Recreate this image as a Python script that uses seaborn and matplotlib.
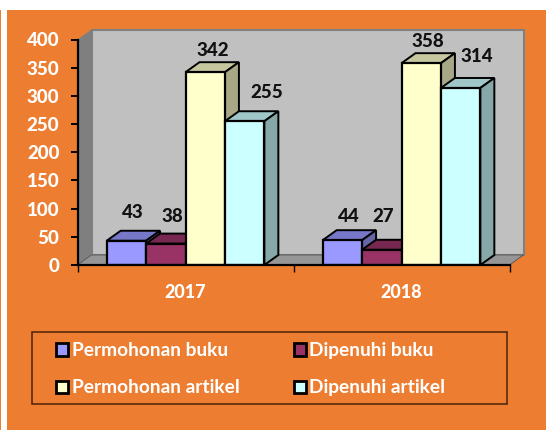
import matplotlib
matplotlib.use("Agg")
import matplotlib.pyplot as plt
from matplotlib.colors import to_rgb
from matplotlib.patches import Polygon, Rectangle
import pandas as pd
import seaborn as sns

# Data
years = ["2017", "2018"]
series = ["Permohonan buku", "Dipenuhi buku", "Permohonan artikel", "Dipenuhi artikel"]
permohonan_buku = [43, 44]
dipenuhi_buku = [38, 27]
permohonan_artikel = [342, 358]
dipenuhi_artikel = [255, 314]
colors = ["#9999FF", "#993366", "#FFFFCC", "#CCFFFF"]
y_ticks = [0, 50, 100, 150, 200, 250, 300, 350, 400]

ORANGE = "#ED7D31"
W, H = 546, 430
HEAVY = 900

sns.set_theme(style="white")
plt.rcParams["font.family"] = ["Lato", "DejaVu Sans"]

rows = []
for name, values in zip(series, [permohonan_buku, dipenuhi_buku, permohonan_artikel, dipenuhi_artikel]):
    for year, value in zip(years, values):
        rows.append({"tahun": year, "jenis": name, "jumlah": value})
df = pd.DataFrame(rows)

fig = plt.figure(figsize=(W / 100, H / 100), dpi=100, facecolor="white")

# Orange panel and the thin strip on the far left
fig.add_artist(Rectangle((7 / W, 0), 1 - 7 / W, 1 - 10 / H, transform=fig.transFigure, fc=ORANGE, ec="none", zorder=-2))
fig.add_artist(Rectangle((0, 0), 1 / W, 1 - 10 / H, transform=fig.transFigure, fc=ORANGE, ec="none", zorder=-2))

left, right, top, bottom = 77.5, 509.5, 39.5, 265
ax = fig.add_axes([left / W, 1 - bottom / H, (right - left) / W, (bottom - top) / H])
ax.patch.set_visible(False)

sns.barplot(data=df, x="tahun", y="jumlah", hue="jenis", hue_order=series, palette=colors,
            width=0.73, saturation=1, edgecolor="black", linewidth=1.6, legend=False, ax=ax)
ax.set_xlim(-0.5, 1.5)
ax.set_ylim(0, 400)

# Depth of the fake 3D box, in data units
dx = 14 / (right - left) * 2
dy = 10 / (bottom - top) * 400
x0, x1 = -0.5, 1.5
ymax = 400


def box_face(points, color, z, edge="none", lw=0):
    ax.add_patch(Polygon(points, closed=True, fc=color, ec=edge, lw=lw, zorder=z, clip_on=False))


def shade(color, k):
    return tuple(c * k for c in to_rgb(color))


box_face([(x0 + dx, dy), (x1 + dx, dy), (x1 + dx, ymax + dy), (x0 + dx, ymax + dy)], "#C0C0C0", 0.5, "#808080", 1.5)
box_face([(x0, 0), (x0 + dx, dy), (x0 + dx, ymax + dy), (x0, ymax)], "#7F7F7F", 0.6)
box_face([(x0, 0), (x1, 0), (x1 + dx, dy), (x0 + dx, dy)], "#969696", 0.6, "#555555", 0.6)

# Top and side faces come from the drawn bars
for i, (container, color) in enumerate(zip(ax.containers, colors)):
    z = 3 + i
    for bar in container:
        bar.set_zorder(z + 0.5)
        bx, bw, bh = bar.get_x(), bar.get_width(), bar.get_height()
        box_face([(bx, bh), (bx + bw, bh), (bx + bw + dx, bh + dy), (bx + dx, bh + dy)],
                 shade(color, 0.78), z, "black", 1.4)
        box_face([(bx + bw, 0), (bx + bw + dx, dy), (bx + bw + dx, bh + dy), (bx + bw, bh)],
                 shade(color, 0.66), z, "black", 1.4)

# Value labels, shifted in pixels like the original
label_shift = [[(6, 28), (6, 24)], [(7, 27), (1, 33)], [(8, 22), (7, 22)], [(22, 29), (16, 31)]]
for container, shifts in zip(ax.containers, label_shift):
    for bar, (sx, sy) in zip(container, shifts):
        ax.annotate(f"{bar.get_height():.0f}", (bar.get_x() + bar.get_width() / 2, bar.get_height()),
                    xytext=(sx * 0.72, sy * 0.72), textcoords="offset points", ha="center", va="center",
                    fontsize=13.5, fontweight=HEAVY, color="#111111", zorder=20, annotation_clip=False)

ax.set_xlabel("")
ax.set_ylabel("")
ax.set_yticks(y_ticks)
ax.set_yticklabels([str(v) for v in y_ticks], color="white", fontsize=13.5, fontweight=HEAVY)
ax.tick_params(axis="y", length=5, width=1.4, color="black", pad=8, left=True)
# x ticks sit on the group boundaries, labels in the middle
ax.set_xticks([-0.5, 0.5, 1.5])
ax.set_xticklabels(["", "", ""])
ax.set_xticks([0, 1], labels=years, minor=True)
ax.tick_params(axis="x", which="major", length=5, width=1, color="black", bottom=True)
ax.tick_params(axis="x", which="minor", length=0, pad=14, labelsize=13, labelcolor="white")
for label in ax.get_xticklabels(minor=True):
    label.set_fontweight(HEAVY)

sns.despine(ax=ax, top=True, right=True)
for side in ["left", "bottom"]:
    ax.spines[side].set_color("black")
    ax.spines[side].set_linewidth(1.6)
    ax.spines[side].set_zorder(15)

# Legend box
fig.add_artist(Rectangle((32 / W, 1 - 404 / H), 475 / W, 72 / H, transform=fig.transFigure,
                         fc="none", ec="#4A2208", lw=1.1))
# legend fills column by column, the reference reads row by row
order = [0, 2, 1, 3]
handles = [Rectangle((0, 0), 1, 1, fc=colors[i], ec="black", lw=2) for i in order]
fig.legend(handles, [series[i] for i in order], ncol=2, frameon=False, loc="upper left",
           bbox_to_anchor=(39 / W, 1 - 325 / H), bbox_transform=fig.transFigure,
           prop={"family": "Lato", "weight": "bold", "size": 13.8}, labelcolor="white",
           handlelength=0.6, handleheight=0.6, handletextpad=0.2, columnspacing=2.86,
           labelspacing=1.05)

fig.savefig("out.png", dpi=100)
